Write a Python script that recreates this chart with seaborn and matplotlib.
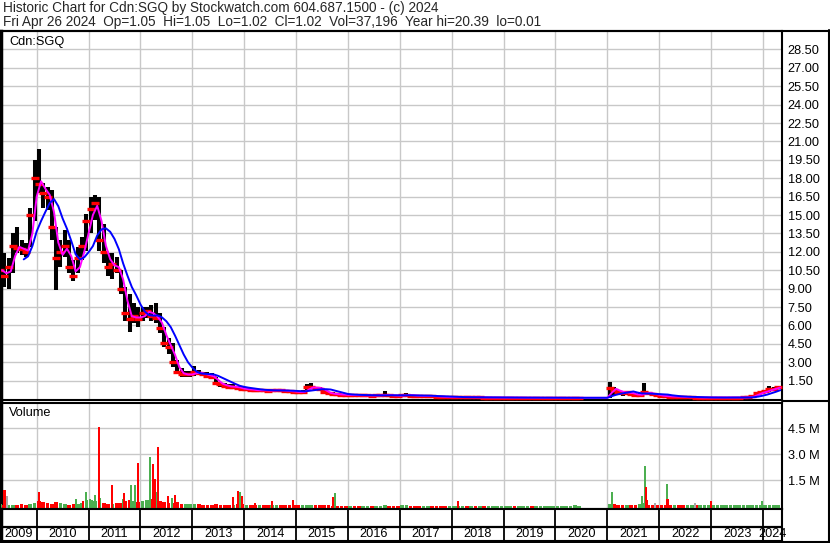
import numpy as np
import pandas as pd
import matplotlib
matplotlib.use("Agg")
import matplotlib.pyplot as plt
from matplotlib.lines import Line2D
import seaborn as sns

# ---------------- data (monthly, Apr 2009 .. Apr 2024) ----------------
first_year, first_month = 2009, 4

hi_2009 = [11.6, 11.9, 11.5, 13.5, 14.0, 13.0, 12.7, 15.6, 19.5]
lo_2009 = [9.9, 9.1, 9.0, 10.3, 11.9, 11.7, 11.6, 12.4, 14.5]
cl_2009 = [10.5, 10.0, 10.8, 12.5, 12.3, 12.2, 12.0, 15.0, 18.0]

hi_2010 = [20.4, 17.6, 17.3, 17.0, 14.0, 13.0, 13.8, 13.0, 11.3, 12.4, 13.2, 15.1]
lo_2010 = [16.8, 15.6, 15.4, 13.0, 8.9, 10.8, 11.6, 10.3, 9.6, 10.3, 11.3, 12.1]
cl_2010 = [17.5, 16.8, 16.5, 14.0, 11.5, 12.0, 12.5, 10.8, 10.0, 11.5, 12.5, 14.5]

hi_2011 = [16.5, 16.6, 16.5, 14.3, 11.9, 11.9, 11.6, 10.5, 9.1, 8.6, 7.8, 7.5]
lo_2011 = [13.5, 14.6, 12.1, 11.1, 10.0, 9.8, 10.3, 8.6, 6.4, 5.5, 6.2, 5.9]
cl_2011 = [15.5, 16.0, 13.0, 12.0, 10.8, 11.0, 10.5, 9.0, 7.0, 6.5, 6.8, 6.5]

hi_2012 = [7.5, 7.5, 7.7, 7.8, 7.0, 5.9, 5.0, 4.6, 3.2, 2.5, 2.3, 2.3]
lo_2012 = [6.4, 6.6, 6.4, 6.2, 5.4, 4.2, 3.7, 2.6, 2.0, 1.8, 1.8, 1.8]
cl_2012 = [7.0, 7.2, 6.8, 6.6, 5.8, 4.6, 4.2, 3.0, 2.2, 2.0, 2.0, 2.0]

hi_2013 = [2.7, 2.35, 2.2, 2.2, 2.1, 1.8, 1.4, 1.3, 1.2, 1.2, 1.1, 1.0]
lo_2013 = [1.9, 1.95, 1.9, 1.8, 1.6, 1.15, 1.0, 0.9, 0.9, 0.85, 0.8, 0.65]
cl_2013 = [2.2, 2.1, 2.0, 1.9, 1.8, 1.3, 1.2, 1.05, 1.0, 1.0, 0.9, 0.8]

hi_2014 = [0.95, 0.9, 0.85, 0.85, 0.8, 0.8, 0.85, 0.85, 0.8, 0.75, 0.72, 0.7]
lo_2014 = [0.7, 0.6, 0.6, 0.62, 0.6, 0.58, 0.6, 0.62, 0.6, 0.55, 0.52, 0.5]
cl_2014 = [0.8, 0.75, 0.7, 0.72, 0.7, 0.68, 0.7, 0.72, 0.7, 0.65, 0.62, 0.6]

hi_2015 = [0.65, 0.7, 1.2, 1.3, 1.0, 0.95, 0.75, 0.6, 0.55, 0.5, 0.42, 0.4]
lo_2015 = [0.5, 0.5, 0.65, 0.8, 0.75, 0.65, 0.4, 0.35, 0.3, 0.3, 0.25, 0.25]
cl_2015 = [0.55, 0.6, 0.95, 0.95, 0.9, 0.85, 0.55, 0.45, 0.4, 0.38, 0.35, 0.33]

hi_2016 = [0.4, 0.38, 0.36, 0.36, 0.35, 0.34, 0.35, 0.36, 0.65, 0.38, 0.34, 0.33]
lo_2016 = [0.26, 0.25, 0.24, 0.24, 0.23, 0.22, 0.24, 0.24, 0.26, 0.24, 0.22, 0.22]
cl_2016 = [0.33, 0.32, 0.3, 0.3, 0.3, 0.28, 0.3, 0.3, 0.35, 0.3, 0.28, 0.27]

hi_2017 = [0.36, 0.5, 0.34, 0.32, 0.3, 0.3, 0.3, 0.28, 0.25, 0.22, 0.2, 0.2]
lo_2017 = [0.22, 0.24, 0.22, 0.21, 0.2, 0.2, 0.2, 0.17, 0.15, 0.13, 0.11, 0.11]
cl_2017 = [0.3, 0.35, 0.28, 0.27, 0.25, 0.25, 0.25, 0.22, 0.2, 0.18, 0.15, 0.15]

hi_2018 = [0.2, 0.18, 0.18, 0.17, 0.17, 0.16, 0.16, 0.15, 0.15, 0.15, 0.15, 0.15]
lo_2018 = [0.1, 0.1, 0.1, 0.1, 0.09, 0.09, 0.09, 0.08, 0.08, 0.08, 0.08, 0.08]
cl_2018 = [0.15, 0.15, 0.15, 0.14, 0.14, 0.13, 0.13, 0.12, 0.12, 0.12, 0.12, 0.12]

hi_2019 = [0.15, 0.15, 0.14, 0.14, 0.14, 0.14, 0.13, 0.13, 0.13, 0.13, 0.13, 0.13]
lo_2019 = [0.08, 0.08, 0.07, 0.07, 0.07, 0.07, 0.06, 0.06, 0.06, 0.06, 0.06, 0.06]
cl_2019 = [0.12, 0.12, 0.11, 0.11, 0.11, 0.11, 0.1, 0.1, 0.1, 0.1, 0.1, 0.1]

nan = float("nan")
# trading halted Jul-Dec 2020 (no bars, last close carried)
hi_2020 = [0.13, 0.13, 0.13, 0.13, 0.13, 0.12, nan, nan, nan, nan, nan, nan]
lo_2020 = [0.06, 0.06, 0.05, 0.05, 0.05, 0.05, nan, nan, nan, nan, nan, nan]
cl_2020 = [0.1, 0.1, 0.1, 0.1, 0.1, 0.1, 0.1, 0.1, 0.1, 0.1, 0.1, 0.1]

hi_2021 = [1.35, 1.0, 0.75, 0.6, 0.6, 0.5, 0.45, 0.45, 1.3, 0.55, 0.5, 0.4]
lo_2021 = [0.1, 0.35, 0.35, 0.25, 0.3, 0.3, 0.25, 0.25, 0.3, 0.3, 0.25, 0.2]
cl_2021 = [0.9, 0.75, 0.6, 0.5, 0.55, 0.4, 0.35, 0.35, 0.55, 0.45, 0.4, 0.3]

hi_2022 = [0.32, 0.3, 0.28, 0.26, 0.25, 0.22, 0.2, 0.2, 0.18, 0.18, 0.17, 0.17]
lo_2022 = [0.18, 0.16, 0.14, 0.13, 0.12, 0.1, 0.1, 0.1, 0.08, 0.08, 0.08, 0.08]
cl_2022 = [0.25, 0.22, 0.2, 0.2, 0.18, 0.15, 0.15, 0.15, 0.12, 0.12, 0.12, 0.12]

hi_2023 = [0.17, 0.17, 0.17, 0.17, 0.17, 0.17, 0.17, 0.18, 0.2, 0.3, 0.55, 0.6]
lo_2023 = [0.08, 0.08, 0.08, 0.08, 0.08, 0.08, 0.08, 0.08, 0.1, 0.15, 0.3, 0.4]
cl_2023 = [0.12, 0.12, 0.12, 0.12, 0.12, 0.12, 0.12, 0.13, 0.15, 0.25, 0.45, 0.55]

hi_2024 = [0.75, 1.1, 0.95, 1.1]
lo_2024 = [0.5, 0.6, 0.7, 0.85]
cl_2024 = [0.65, 0.8, 0.85, 1.02]

# typical monthly volume (millions of shares)
vol_2009 = [0.15, 0.1, 0.08, 0.1, 0.06, 0.15, 0.1, 0.12, 0.2]
vol_2010 = [0.3, 0.25, 0.2, 0.15, 0.25, 0.2, 0.15, 0.1, 0.12, 0.15, 0.2, 0.35]
vol_2011 = [0.35, 0.3, 0.25, 0.2, 0.15, 0.15, 0.2, 0.2, 0.3, 0.35, 0.3, 0.25]
vol_2012 = [0.3, 0.35, 0.4, 0.35, 0.3, 0.25, 0.2, 0.2, 0.25, 0.15, 0.12, 0.12]
vol_2013 = [0.15, 0.12, 0.1, 0.1, 0.1, 0.12, 0.1, 0.08, 0.08, 0.1, 0.15, 0.15]
vol_2014 = [0.1, 0.08, 0.08, 0.1, 0.06, 0.08, 0.06, 0.05, 0.06, 0.08, 0.06, 0.05]
vol_2015 = [0.05, 0.05, 0.1, 0.08, 0.06, 0.05, 0.05, 0.05, 0.04, 0.04, 0.04, 0.04]
vol_2016 = [0.04, 0.04, 0.03, 0.04, 0.03, 0.03, 0.04, 0.03, 0.05, 0.04, 0.03, 0.03]
vol_2017 = [0.05, 0.06, 0.04, 0.04, 0.03, 0.03, 0.03, 0.03, 0.04, 0.03, 0.03, 0.03]
vol_2018 = [0.04, 0.04, 0.03, 0.03, 0.03, 0.03, 0.03, 0.03, 0.03, 0.03, 0.03, 0.03]
vol_2019 = [0.03, 0.03, 0.03, 0.03, 0.03, 0.03, 0.03, 0.03, 0.03, 0.03, 0.03, 0.03]
vol_2020 = [0.03, 0.03, 0.03, 0.04, 0.05, 0.04, 0.0, 0.0, 0.0, 0.0, 0.0, 0.0]
vol_2021 = [0.15, 0.12, 0.1, 0.08, 0.1, 0.1, 0.08, 0.15, 0.2, 0.1, 0.08, 0.06]
vol_2022 = [0.08, 0.1, 0.06, 0.06, 0.05, 0.05, 0.05, 0.05, 0.05, 0.05, 0.05, 0.05]
vol_2023 = [0.05, 0.06, 0.06, 0.07, 0.08, 0.06, 0.05, 0.06, 0.06, 0.07, 0.08, 0.08]
vol_2024 = [0.1, 0.08, 0.08, 0.07]

# single-day volume spikes (decimal year, millions, direction)
spike_dates = [2009.379, 2009.422, 2010.044, 2010.758, 2010.892, 2010.944, 2011.027,
               2011.124, 2011.195, 2011.220, 2011.446, 2011.663, 2011.683, 2011.812,
               2011.895, 2011.947, 2012.178, 2012.236, 2012.286, 2012.305, 2012.332,
               2012.525, 2012.608, 2012.660, 2013.778, 2013.874, 2013.919, 2013.951,
               2014.208, 2014.530, 2014.935, 2015.706, 2015.750, 2018.127, 2021.083,
               2021.673, 2021.725, 2021.738, 2021.757, 2021.917, 2022.143, 2022.158,
               2022.689, 2022.991, 2023.975]
spike_vols = [0.94, 0.59, 0.84, 0.42, 0.30, 0.84, 0.40,
              0.67, 4.60, 0.47, 1.23, 0.40, 0.78, 1.23,
              1.23, 2.50, 2.86, 2.44, 1.60, 0.80, 3.44,
              0.60, 0.50, 0.65, 0.55, 0.90, 0.83, 0.60,
              0.19, 0.30, 0.36, 0.55, 0.75, 0.30, 0.84,
              0.60, 2.30, 1.10, 0.36, 0.20, 1.30, 0.40,
              0.20, 0.28, 0.29]
spike_dirs = ["down", "flat", "down", "up", "down", "up", "up",
              "up", "down", "up", "down", "up", "down", "up",
              "up", "down", "up", "down", "down", "up", "down",
              "down", "up", "down", "down", "down", "up", "down",
              "down", "down", "down", "down", "up", "down", "up",
              "up", "up", "down", "down", "flat", "up", "down",
              "flat", "down", "up"]

price_ticks = [1.5 * k for k in range(1, 20)]
vol_ticks = [1.5, 3.0, 4.5]
year_marks = list(range(2010, 2025))
title_1 = "Historic Chart for Cdn:SGQ by Stockwatch.com 604.687.1500 - (c) 2024"
title_2 = ("Fri Apr 26 2024  Op=1.05  Hi=1.05  Lo=1.02  Cl=1.02  "
           "Vol=37,196  Year hi=20.39  lo=0.01")

# ---------------- assemble ----------------
years = list(range(2009, 2025))
hi = np.concatenate([globals()[f"hi_{y}"] for y in years])
lo = np.concatenate([globals()[f"lo_{y}"] for y in years])
cl = np.concatenate([globals()[f"cl_{y}"] for y in years])
vol = np.concatenate([globals()[f"vol_{y}"] for y in years])
n = len(cl)
t = first_year + (first_month - 1 + np.arange(n) + 0.5) / 12.0

df = pd.DataFrame({"t": t, "hi": hi, "lo": lo, "cl": cl, "vol": vol})
df["t_end"] = df["t"] + 0.5 / 12.0          # month-end, where the close belongs
df["ma_short"] = df["cl"].rolling(2, min_periods=1).mean()
df["ma_long"] = df["cl"].rolling(6).mean()
df["dir"] = np.where(df["cl"].diff().fillna(0) >= 0, "up", "down")
traded = df["hi"].notna()

colors = {"up": "#4caf50", "down": "#ff0000", "flat": "#a9a9a9"}

# ---------------- figure ----------------
sns.set_theme(style="white")
plt.rcParams["font.family"] = ["Liberation Sans", "DejaVu Sans"]
W, H = 830, 543
fig = plt.figure(figsize=(W / 100, H / 100), dpi=100)
fig.patch.set_facecolor("white")


def ax_at(x0, y0, x1, y1):
    return fig.add_axes([x0 / W, 1 - y1 / H, (x1 - x0) / W, (y1 - y0) / H])


XMIN, XMAX = 2009.312, 2024.366
grid_c = "#c8c8c8"
fs = 9.2
fs_title = 9.8

ax_p = ax_at(1, 31, 782, 400)
ax_v = ax_at(1, 403, 782, 509)
ax_d = ax_at(1, 509, 782, 541)

for ax in (ax_p, ax_v, ax_d):
    ax.set_facecolor("white")
    ax.set_xlim(XMIN, XMAX)
    for s in ax.spines.values():
        s.set_color("black")
        s.set_linewidth(1.5)
        s.set_visible(True)
    ax.spines["left"].set_linewidth(2.5)

# price panel
ax_p.set_ylim(-0.08, 30.0)
ax_p.set_xticks(year_marks)
ax_p.set_yticks(price_ticks)
ax_p.set_yticklabels([f"{v:.2f}" for v in price_ticks])
ax_p.grid(True, color=grid_c, lw=1.0)
ax_p.set_axisbelow(True)
ax_p.yaxis.tick_right()
ax_p.tick_params(axis="y", length=0, pad=4, labelsize=fs, colors="black")
ax_p.tick_params(axis="x", length=0, labelbottom=False)

dp = df[traded]
ax_p.vlines(dp["t"], dp["lo"], dp["hi"], color="black", lw=2.9, zorder=3)
ax_p.plot(dp["t"], dp["cl"], ls="none", marker="_", ms=5.5, mew=2.4,
          color="#ff0000", zorder=4)
sns.lineplot(x=df["t_end"], y=df["ma_short"], color="#ff00ff", lw=1.4, ax=ax_p,
             zorder=5, estimator=None, sort=False)
sns.lineplot(x=df["t_end"], y=df["ma_long"], color="#0000ff", lw=1.4, ax=ax_p,
             zorder=6, estimator=None, sort=False)
ax_p.set_xlim(XMIN, XMAX)
ax_p.set_xlabel("")
ax_p.set_ylabel("")
ax_p.text(8 / 781, 1 - 11 / 369, "Cdn:SGQ", transform=ax_p.transAxes,
          ha="left", va="center", fontsize=fs, color="black")

# volume panel
vbot = -0.156
ax_v.set_ylim(vbot, 5.96)
ax_v.set_xticks(year_marks)
ax_v.set_yticks(vol_ticks)
ax_v.set_yticklabels([f"{v:.1f} M" for v in vol_ticks])
ax_v.grid(True, color=grid_c, lw=1.0)
ax_v.set_axisbelow(True)
ax_v.yaxis.tick_right()
ax_v.tick_params(axis="y", length=0, pad=4, labelsize=fs, colors="black")
ax_v.tick_params(axis="x", length=0, labelbottom=False)

dv = df[df["vol"] > 0]
ax_v.bar(dv["t"], dv["vol"] - vbot, bottom=vbot, width=0.85 / 12,
         color=[colors[d] for d in dv["dir"]], zorder=3, linewidth=0)
order = np.argsort([0 if d != "down" else 1 for d in spike_dirs], kind="stable")
for i in order:
    ax_v.bar(spike_dates[i], spike_vols[i] - vbot, bottom=vbot, width=0.042,
             color=colors[spike_dirs[i]], zorder=4, linewidth=0)
ax_v.set_xlim(XMIN, XMAX)
ax_v.text(8 / 781, 1 - 10 / 106, "Volume", transform=ax_v.transAxes,
          ha="left", va="center", fontsize=fs, color="black")

# date strip
ax_d.set_ylim(0, 1)
ax_d.set_xticks([])
ax_d.set_yticks([])
ax_d.vlines(year_marks, 0, 1, color="black", lw=1.3)
ax_d.axhline(1 - 18 / 32, color="black", lw=1.6)
bounds = [XMIN] + year_marks + [XMAX]
for a, b, y in zip(bounds[:-1], bounds[1:], range(2009, 2025)):
    ax_d.text((a + b) / 2, 1 - 25 / 32, str(y), ha="center", va="center",
              fontsize=fs, color="black", clip_on=False)

# frame lines and title
def fig_line(x0, y0, x1, y1, lw=1.5):
    fig.add_artist(Line2D([x0 / W, x1 / W], [1 - y0 / H, 1 - y1 / H],
                          color="black", lw=lw))

fig_line(0, 30.5, W, 30.5)
fig_line(782, 401, W, 401)
fig_line(828.5, 30, 828.5, 542)
fig_line(0, 541.5, W, 541.5)

fig.text(3 / W, 1 - 8 / H, title_1, ha="left", va="center", fontsize=fs_title)
fig.text(3 / W, 1 - 22 / H, title_2, ha="left", va="center", fontsize=fs_title)

fig.savefig("out.png", dpi=100, facecolor="white")
